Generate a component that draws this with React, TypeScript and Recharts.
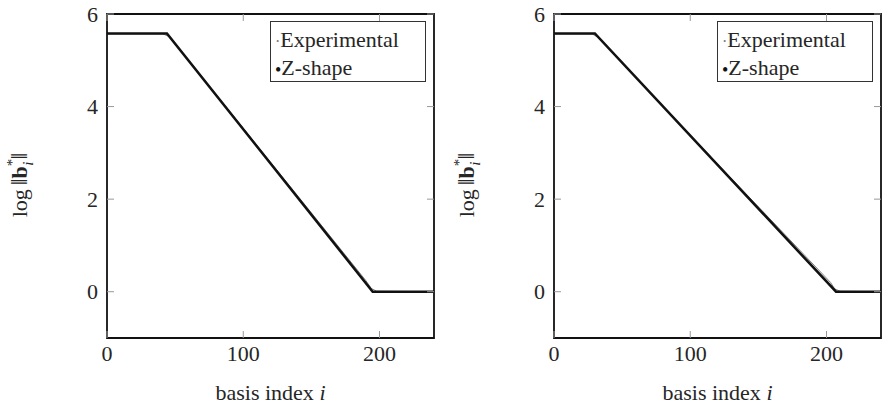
import React from 'react';
import { LineChart, Line, XAxis, YAxis, ReferenceArea } from 'recharts';

// series and ticks
const SERIES_NAMES = ['Experimental', 'Z-shape'];
const X_TICKS = [0, 100, 200];
const Y_TICKS = [0, 2, 4, 6];
const X_DOMAIN = [0, 240];
const Y_DOMAIN = [-1, 6];

// left panel
const leftZShape = [
  { x: 0, y: 5.58 },
  { x: 44, y: 5.58 },
  { x: 195, y: 0 },
  { x: 240, y: 0 },
];
const leftExperimental = [
  { x: 0, y: 5.57 },
  { x: 41, y: 5.57 },
  { x: 45, y: 5.52 },
  { x: 49, y: 5.4 },
  { x: 120, y: 2.8 },
  { x: 190, y: 0.24 },
  { x: 194, y: 0.07 },
  { x: 198, y: 0.01 },
  { x: 240, y: 0.0 },
];

// right panel
const rightZShape = [
  { x: 0, y: 5.58 },
  { x: 30, y: 5.58 },
  { x: 207, y: 0 },
  { x: 240, y: 0 },
];
const rightExperimental = [
  { x: 0, y: 5.57 },
  { x: 28, y: 5.57 },
  { x: 32, y: 5.5 },
  { x: 35, y: 5.42 },
  { x: 120, y: 2.76 },
  { x: 203, y: 0.2 },
  { x: 206, y: 0.06 },
  { x: 210, y: 0.01 },
  { x: 240, y: 0.0 },
];

const FONT = '"Liberation Serif", "Times New Roman", serif';
const TEXT = '#262626';
const H = 410;
const PLOT_LEFT = 107;
const PLOT_TOP = 14;
const PLOT_BOTTOM = 338;
const AXIS_W = 60;
const AXIS_H = 60;

function Panel({ ox, width, zData, expData }: { ox: number; width: number; zData: any[]; expData: any[] }) {
  const plotRight = width - 2;

  const YTick = (props: any) => {
    const { y, payload } = props;
    return (
      <g>
        <line x1={PLOT_LEFT} x2={PLOT_LEFT + 7} y1={y} y2={y} stroke="#999" strokeWidth={1} />
        <line x1={plotRight - 7} x2={plotRight} y1={y} y2={y} stroke="#999" strokeWidth={1} />
        <text x={PLOT_LEFT - 9} y={y} textAnchor="end" dominantBaseline="central" fontFamily={FONT} fontSize={22} fill={TEXT}>
          {payload.value}
        </text>
      </g>
    );
  };

  const XTick = (props: any) => {
    const { x, payload } = props;
    return (
      <g>
        <line x1={x} x2={x} y1={PLOT_BOTTOM - 7} y2={PLOT_BOTTOM} stroke="#999" strokeWidth={1} />
        <line x1={x} x2={x} y1={PLOT_TOP} y2={PLOT_TOP + 7} stroke="#999" strokeWidth={1} />
        <text x={x} y={PLOT_BOTTOM + 15} textAnchor="middle" dominantBaseline="central" fontFamily={FONT} fontSize={22} fill={TEXT}>
          {payload.value}
        </text>
      </g>
    );
  };

  const xLabel = () => (
    <text x={(PLOT_LEFT + plotRight) / 2} y={392} textAnchor="middle" dominantBaseline="central" fontFamily={FONT} fontSize={22} fill={TEXT}>
      basis index <tspan fontStyle="italic">i</tspan>
    </text>
  );

  // log‖b*_i‖ with stacked super/subscript
  const yLabel = () => (
    <text transform="translate(27, 185) rotate(-90)" textAnchor="middle" fontFamily={FONT} fontSize={22} fill={TEXT}>
      log
      <tspan dx={4} fontSize={24}>‖</tspan>
      <tspan fontWeight="bold">b</tspan>
      <tspan fontSize={15} dy={-10}>*</tspan>
      <tspan fontSize={15} fontStyle="italic" dx={-7} dy={16}>i</tspan>
      <tspan dx={2} dy={-6} fontSize={24}>‖</tspan>
    </text>
  );

  return (
    <div style={{ position: 'absolute', left: ox, top: 0, width, height: H }}>
      <LineChart
        width={width}
        height={H}
        margin={{ top: PLOT_TOP, right: 2, bottom: H - PLOT_BOTTOM - AXIS_H, left: PLOT_LEFT - AXIS_W }}
      >
        <XAxis
          type="number"
          dataKey="x"
          domain={X_DOMAIN}
          ticks={X_TICKS}
          height={AXIS_H}
          axisLine={false}
          tickLine={false}
          tick={<XTick />}
          allowDataOverflow
          label={{ content: xLabel }}
        />
        <YAxis
          type="number"
          dataKey="y"
          domain={Y_DOMAIN}
          ticks={Y_TICKS}
          width={AXIS_W}
          axisLine={false}
          tickLine={false}
          tick={<YTick />}
          allowDataOverflow
          label={{ content: yLabel }}
        />
        <Line
          data={expData}
          dataKey="y"
          name={SERIES_NAMES[0]}
          type="linear"
          stroke="#808080"
          strokeWidth={1}
          dot={false}
          isAnimationActive={false}
        />
        <Line
          data={zData}
          dataKey="y"
          name={SERIES_NAMES[1]}
          type="linear"
          stroke="#111"
          strokeWidth={2.6}
          dot={false}
          isAnimationActive={false}
        />
        <ReferenceArea x1={X_DOMAIN[0]} x2={X_DOMAIN[1]} y1={Y_DOMAIN[0]} y2={Y_DOMAIN[1]} fill="none" stroke="#111" strokeWidth={1.8} fillOpacity={0} />
      </LineChart>
      <div
        style={{
          position: 'absolute',
          left: plotRight - 8 - 156,
          top: 21,
          width: 156,
          height: 61,
          boxSizing: 'border-box',
          border: '1px solid #333',
          background: '#fff',
          fontFamily: FONT,
          fontSize: 22,
          color: TEXT,
          lineHeight: '26px',
          paddingTop: 5,
          paddingLeft: 4,
        }}
      >
        <div>
          <span style={{ color: '#777', fontSize: 16, verticalAlign: 'middle' }}>·</span>
          {SERIES_NAMES[0]}
        </div>
        <div>
          <span style={{ color: '#111', fontSize: 18, verticalAlign: 'middle' }}>•</span>
          {SERIES_NAMES[1]}
        </div>
      </div>
    </div>
  );
}

export default function App() {
  return (
    <div style={{ position: 'absolute', left: 0, top: 0, width: 883, height: H, background: '#fff' }}>
      <Panel ox={0} width={436} zData={leftZShape} expData={leftExperimental} />
      <Panel ox={447} width={436} zData={rightZShape} expData={rightExperimental} />
    </div>
  );
}
